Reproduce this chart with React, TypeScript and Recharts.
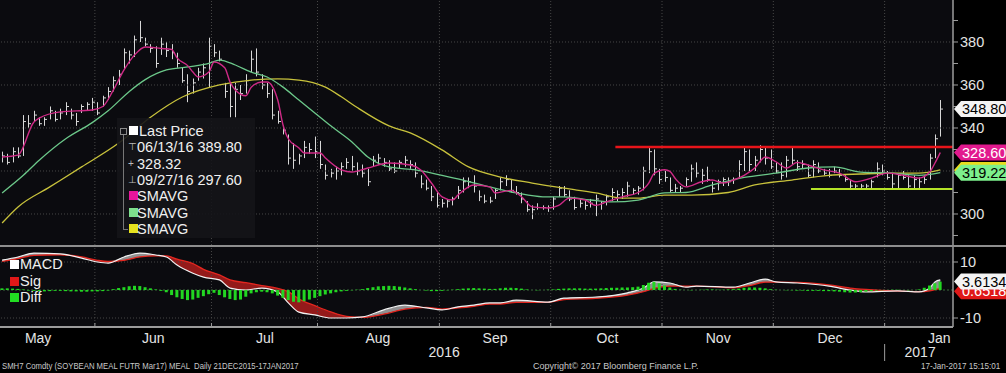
import React from 'react'
import {
    ComposedChart,
    Bar,
    Line,
    Area,
    XAxis,
    YAxis,
    CartesianGrid,
    ReferenceLine,
    ReferenceDot
} from 'recharts'

// daily bars, SMH7 soybean meal, 05 May 2016 .. 17 Jan 2017
const highs = [
    329, 328, 331, 331, 346, 346, 348, 345, 345, 350,
    348, 349, 352, 349, 347, 351, 352, 354, 352, 355,
    359, 364, 367, 377, 376, 383, 389.8, 382, 379, 378,
    382, 380, 379, 375, 368, 365, 363, 368, 370, 382,
    379, 376, 361, 361, 361, 360, 365, 376, 377, 365,
    361, 358, 348, 341, 337, 333, 328, 334, 333, 336,
    334, 323, 321, 322, 324, 326, 327, 324, 323, 321,
    327, 328, 326, 325, 324, 325, 327, 325, 324, 318,
    316, 313, 310, 307, 307, 308, 313, 317, 317, 318,
    311, 309, 308, 312, 317, 318, 316, 313, 310, 306,
    304, 305, 304, 304, 308, 313, 313, 311, 308, 307,
    306, 307, 309, 306, 309, 312, 311, 312, 315, 312,
    313, 322, 331, 330, 321, 320, 317, 314, 313, 317,
    323, 324, 321, 322, 315, 316, 317, 317, 317, 325,
    331, 330, 327, 332, 331, 330, 324, 324, 327, 331,
    325, 325, 323, 325, 324, 321, 321, 322, 321, 318,
    316, 314, 314, 314, 316, 324, 323, 320, 319, 319,
    320, 318, 318, 317, 318, 328, 337, 353
]
const lows = [
    324, 323, 324, 326, 327, 340, 343, 341, 341, 344,
    343, 344, 346, 344, 341, 347, 348, 348, 346, 350,
    353, 357, 360, 367, 370, 373, 380, 378, 375, 368,
    374, 373, 372, 368, 361, 352, 356, 362, 363, 359,
    373, 371, 354, 345, 345, 353, 356, 366, 364, 358,
    354, 344, 342, 337, 323, 321, 323, 326, 328, 326,
    321, 316, 317, 316, 318, 321, 320, 318, 317, 313,
    322, 323, 322, 320, 319, 321, 322, 321, 317, 312,
    311, 306, 303, 303, 303, 304, 307, 310, 312, 310,
    306, 305, 305, 307, 311, 313, 310, 309, 305, 301,
    297.6, 302, 302, 301, 302, 308, 308, 306, 302, 303,
    302, 303, 299, 302, 304, 306, 306, 307, 308, 309,
    309, 311, 319, 318, 314, 315, 310, 310, 310, 313,
    315, 317, 314, 315, 310, 311, 313, 313, 314, 317,
    320, 320, 320, 324, 323, 321, 319, 316, 317, 323,
    320, 321, 317, 317, 319, 318, 317, 319, 317, 315,
    312, 312, 312, 312, 312, 317, 318, 316, 312, 312,
    316, 312, 312, 312, 314, 316, 326, 336
]
const closes = [
    327, 324, 329, 327, 343, 342, 346, 342, 344, 348,
    344, 347, 350, 346, 343, 350, 351, 352, 347, 354,
    357, 362, 365, 375, 374, 381, 382, 379, 377, 370,
    379, 376, 375, 370, 362, 357, 361, 366, 368, 378,
    375, 372, 357, 350, 358, 356, 362, 372, 366, 360,
    356, 346, 343, 339, 326, 325, 327, 331, 330, 329,
    323, 318, 319, 320, 322, 324, 322, 320, 319, 315,
    325, 326, 324, 321, 320, 324, 325, 323, 319, 314,
    312, 308, 304, 305, 306, 307, 311, 315, 315, 313,
    308, 306, 306, 311, 315, 316, 311, 310, 307, 302,
    302, 303, 303, 303, 307, 312, 309, 307, 303, 305,
    304, 305, 307, 305, 308, 310, 309, 310, 313, 311,
    312, 320, 329, 321, 316, 317, 311, 312, 312, 316,
    321, 319, 318, 316, 312, 315, 316, 315, 316, 323,
    329, 323, 325, 330, 326, 322, 320, 318, 325, 325,
    322, 323, 318, 323, 320, 319, 318, 320, 318, 316,
    313, 313, 313, 313, 315, 321, 320, 317, 314, 318,
    317, 313, 316, 315, 316, 326, 335, 348.8
]
const diffs = [
    0.6, 0.6, 0.5, 0.4, 0.2, -0.2, -0.3, -0.4, -0.5, -0.4,
    -0.3, -0.3, -0.4, -0.5, -0.5, -0.6, -0.6, -0.5, -0.5, -0.4,
    -0.2, 0.3, 0.7, 1.0, 1.3, 1.5, 1.4, 1.0, 0.6, 0.2,
    -0.3, -0.8, -1.8, -2.6, -3.2, -3.6, -3.4, -2.8, -2.2, -1.5,
    -1.0, -1.8, -2.6, -3.2, -3.6, -3.4, -2.4, -1.2, -0.8, -0.6,
    -0.8, -1.2, -2.0, -2.8, -3.6, -4.2, -4.4, -4.0, -3.4, -2.8,
    -2.2, -1.6, -1.2, -0.8, -0.5, -0.3, -0.1, 0.1, 0.3, 0.7,
    1.0, 1.3, 1.4, 1.5, 1.4, 1.2, 0.9, 0.6, 0.3, 0.0,
    -0.2, -0.4, -0.4, -0.3, -0.1, 0.1, 0.3, 0.5, 0.6, 0.7,
    0.6, 0.5, 0.4, 0.4, 0.6, 0.8, 0.8, 0.7, 0.5, 0.2,
    0.0, -0.1, 0.0, 0.1, 0.2, 0.4, 0.5, 0.6, 0.6, 0.6,
    0.5, 0.5, 0.5, 0.6, 0.7, 0.8, 0.8, 0.9, 0.9, 1.0,
    1.2, 1.8, 2.6, 2.9, 2.4, 1.6, 0.9, 0.4, 0.1, 0.0,
    -0.1, 0.0, 0.1, 0.2, 0.2, 0.1, 0.1, 0.2, 0.3, 0.5,
    0.8, 0.9, 0.9, 0.8, 0.6, 0.3, 0.1, 0.0, -0.1, -0.1,
    -0.2, -0.2, -0.3, -0.3, -0.3, -0.4, -0.4, -0.5, -0.6, -0.8,
    -0.9, -0.9, -0.8, -0.6, -0.4, -0.2, -0.1, 0.0, 0.1, 0.1,
    0.0, -0.1, 0.0, 0.2, 0.8, 1.6, 2.4, 3.0
]

// moving averages read at sample days: [day, value]
const fastSma: [number, number][] = [
    [0, 326.5], [3, 327.4], [6, 342.8], [7, 344.6], [11, 347.5], [17, 348.4], [19, 350],
    [21, 357.7], [23, 367], [25, 374], [27, 377.7], [30, 377], [32, 376.5], [33, 372.6],
    [35, 369], [36, 366], [37, 363.7], [39, 366], [40, 370.7], [42, 368], [43, 361.4],
    [44, 357.7], [46, 355], [47, 359], [49, 361.4], [50, 361.4], [52, 353], [53, 341.4],
    [54, 335], [56, 330.7], [57, 328.4], [60, 328.4], [61, 326], [64, 320.5], [66, 319.5],
    [69, 321.4], [73, 323.7], [77, 322.8], [79, 320.5], [81, 314.4], [83, 308], [85, 306.5],
    [86, 308.8], [89, 313.5], [92, 312.6], [93, 309.8], [96, 311], [98, 308], [100, 303.3],
    [103, 302.8], [105, 304], [107, 307.4], [110, 306.5], [112, 304], [114, 305.6], [117, 308],
    [120, 310], [122, 314.4], [123, 318.8], [125, 320.6], [126, 319.8], [127, 316.5], [129, 312.6],
    [132, 315], [134, 315.8], [136, 314.4], [138, 315.8], [140, 318], [142, 321.4], [144, 326.5],
    [146, 324.3], [148, 321.4], [150, 324], [152, 322.8], [155, 320.5], [158, 319], [161, 315],
    [164, 316.7], [167, 319], [170, 318], [173, 316.7], [175, 319.5], [176, 323.7], [177, 328.6]
]
const midSma: [number, number][] = [
    [0, 309.8], [4, 318], [7, 325], [12, 335], [17, 342.5], [20, 348], [24, 357], [27, 362.5],
    [31, 367], [35, 368.4], [39, 370], [41, 371.6], [44, 369.3], [47, 366], [50, 363.7],
    [53, 359], [56, 353], [59, 347], [62, 341], [66, 333.5], [69, 326.5], [73, 321.9],
    [78, 320.5], [83, 318], [87, 315.8], [92, 312.6], [97, 309.8], [102, 308], [106, 308],
    [111, 306.5], [115, 305.6], [120, 306.5], [125, 309.8], [129, 310], [134, 313.5],
    [140, 317], [146, 319], [152, 321.4], [157, 321.9], [162, 319.5], [168, 319], [173, 318],
    [177, 319.22]
]
const slowSma: [number, number][] = [
    [0, 295.8], [3, 303.3], [9, 312.6], [15, 321.9], [22, 333], [28, 345], [34, 354.4],
    [41, 360], [47, 362.3], [52, 362.8], [56, 362.3], [61, 359], [64, 354.5], [67, 349.5],
    [73, 341], [77, 337.7], [83, 329.8], [88, 321.9], [94, 317.2], [100, 314.4], [106, 312],
    [112, 309.8], [117, 307.4], [120, 307.4], [125, 308.8], [130, 308.8], [137, 310],
    [142, 313.5], [149, 315.8], [156, 318], [162, 318.6], [168, 319], [173, 319], [177, 320.5]
]

// MACD / signal read at sample days
const macdDays = [
    0, 3, 6, 11, 15, 18, 20, 23, 26, 29, 31, 33, 36, 38, 41, 43, 46, 49, 52, 54,
    56, 59, 62, 65, 68, 72, 76, 80, 83, 86, 89, 92, 94, 97, 103, 106, 112, 118, 121, 123,
    126, 129, 131, 138, 141, 144, 146, 150, 156, 160, 163, 169, 173, 175, 176, 177
]
const macdValues = [
    10.7, 11.8, 13.2, 12.9, 11.4, 10.0, 9.6, 11.8, 13.2, 12.5, 11.8, 8.9, 6.0, 4.6, 3.6, 0.7, 0.0, 0.7, -0.7, -4.6,
    -7.9, -8.9, -10.0, -10.0, -9.6, -7.1, -5.4, -6.4, -7.1, -6.0, -5.4, -4.6, -4.6, -3.6, -4.3, -2.9, -2.5, -1.0, 0.7, 2.9,
    2.5, 1.0, 1.4, 1.0, 2.5, 3.9, 2.9, 2.5, 1.4, 0.0, -0.7, -0.3, -0.7, 0.7, 2.9, 3.6
]
const sigValues = [
    10.2, 11.2, 12.4, 12.6, 11.8, 10.6, 10.2, 10.6, 11.8, 12.2, 12.2, 11.0, 9.4, 7.4, 5.4, 3.6, 2.6, 1.6, 0.6, -0.6,
    -3.2, -5.6, -7.8, -9.4, -9.8, -8.6, -6.8, -6.2, -6.8, -6.4, -5.8, -5.0, -5.0, -4.4, -4.4, -3.4, -3.0, -1.8, -0.6, 0.6,
    1.4, 1.4, 1.4, 0.8, 1.6, 2.8, 2.8, 2.7, 1.8, 0.7, 0.2, -0.4, -0.6, -0.3, 0.1, 0.65
]

const monthLabels = ['May', 'Jun', 'Jul', 'Aug', 'Sep', 'Oct', 'Nov', 'Dec', 'Jan']
const monthCenters = [6.8, 28.5, 49.6, 70.9, 93, 114.2, 135.1, 156.2, 176.8]
const monthStarts = [17.5, 39.5, 59.5, 82.5, 103.5, 124.5, 145.5, 166.5]
const yearLabels = ['2016', '2017']
const yearCenters = [83.4, 173.2]
const yearBreak = 166.5

const priceGrid = [300, 320, 340, 360, 380]
const priceTicks = [290, 300, 310, 320, 330, 340, 350, 360, 370, 380, 390]
const priceLabels = [300, 340, 360, 380]
const resistance = { from: 115.7, value: 331.2 }
const support = { from: 152.6, value: 311.6 }

// the yellow badge sits behind the green one, only its edge shows
const priceBadges = [
    { value: 348.8, text: '348.80', bg: '#f4f4f4', fg: '#000' },
    { value: 320.5, text: '', bg: '#e8dc1e', fg: '#000' },
    { value: 319.22, text: '319.22', bg: '#7df08c', fg: '#000' },
    { value: 328.6, text: '328.60', bg: '#e2198e', fg: '#fff' }
]
const macdBadges = [
    { value: -0.4, text: '0.6518', bg: '#e01818', fg: '#fff' },
    { value: 3.0, text: '3.6134', bg: '#f4f4f4', fg: '#000' }
]

const legendStats = [
    { mark: '⊤', text: '06/13/16 389.80' },
    { mark: '+', text: '328.32' },
    { mark: '⊥', text: '09/27/16 297.60' }
]
const smaColors = ['#e8159b', '#7ee08e', '#e6e21e']

type Row = { i: number; range: number[]; hi: number; lo: number; cl: number; diff: number }

const rows: Row[] = highs.map((h, i) => ({
    i,
    range: [lows[i], h],
    hi: h,
    lo: lows[i],
    cl: closes[i],
    diff: diffs[i]
}))

const fastRows = fastSma.map(([d, v]) => ({ i: d, v }))
const midRows = midSma.map(([d, v]) => ({ i: d, v }))
const slowRows = slowSma.map(([d, v]) => ({ i: d, v }))

const macdRows = macdDays.map((d, k) => {
    const m = macdValues[k]
    const s = sigValues[k]
    return { i: d, macd: m, sig: s, up: [s, Math.max(m, s)], down: [Math.min(m, s), s] }
})

const X_DOMAIN: [number, number] = [-0.4, 179.4]
const FONT = '"Liberation Sans", Arial, sans-serif'
const GRID = '#474747'
const AXIS = '#9c9c9c'

function OhlcBar(props: any) {
    const { x, y, width, height, payload } = props
    if (x == null || y == null || !payload) return null
    const top = Math.min(y, y + height)
    const h = Math.max(Math.abs(height), 1)
    const cx = Math.round(x + width / 2) + 0.5
    const span = payload.hi - payload.lo
    const yc = top + (span ? (payload.hi - payload.cl) / span : 0) * h
    return (
        <g>
            <line x1={cx} x2={cx} y1={top} y2={top + h} stroke="#d8d8d8" strokeWidth={1} />
            <line x1={cx} x2={cx + 2.5} y1={yc} y2={yc} stroke="#d8d8d8" strokeWidth={1} />
        </g>
    )
}

function makeBadge(text: string, bg: string, fg: string) {
    return (props: any) => {
        const { cx, cy } = props
        const h = 8
        return (
            <g>
                <path
                    d={`M${cx + 1},${cy} L${cx + 8},${cy - h} L${cx + 53},${cy - h} L${cx + 53},${cy + h} L${cx + 8},${cy + h} Z`}
                    fill={bg}
                />
                {text && <text x={cx + 9} y={cy + 5} fill={fg} fontSize={14.5} fontFamily={FONT}>{text}</text>}
            </g>
        )
    }
}

function PriceTick(props: any) {
    const { x, y, payload } = props
    if (!priceLabels.includes(payload.value)) return null
    return (
        <text x={x} y={y + 5} fill="#e4e4e4" fontSize={14.5} fontFamily={FONT} textAnchor="start">
            {payload.value}
        </text>
    )
}

function MacdTick(props: any) {
    const { x, y, payload } = props
    return (
        <text x={x} y={y + 5} fill="#e4e4e4" fontSize={14.5} fontFamily={FONT} textAnchor="start">
            {payload.value}
        </text>
    )
}

function TimeTick(props: any) {
    const { x, y, payload } = props
    const v = payload.value
    const mi = monthCenters.indexOf(v)
    if (mi >= 0) {
        return (
            <text x={x} y={y + 16} fill="#e4e4e4" fontSize={14} fontFamily={FONT} textAnchor="middle">
                {monthLabels[mi]}
            </text>
        )
    }
    const yi = yearCenters.indexOf(v)
    if (yi >= 0) {
        return (
            <text x={x} y={y + 30} fill="#e4e4e4" fontSize={14} fontFamily={FONT} textAnchor="middle">
                {yearLabels[yi]}
            </text>
        )
    }
    return (
        <g>
            <line x1={x} x2={x} y1={y - 4} y2={y} stroke={AXIS} strokeWidth={1} />
            {v === yearBreak && <line x1={x} x2={x} y1={y + 17} y2={y + 34} stroke={AXIS} strokeWidth={1} />}
        </g>
    )
}

const timeTicks = [...monthStarts, ...monthCenters, ...yearCenters]

function PriceLegend() {
    const rowTop = (k: number) => 5 + k * 16.3
    const textStyle: React.CSSProperties = {
        position: 'absolute', left: 20, fontSize: 14.5, lineHeight: '16px', color: '#f0f0f0', whiteSpace: 'nowrap'
    }
    return (
        <div style={{ position: 'absolute', left: 117, top: 118, width: 138, height: 120, background: 'rgba(20,20,24,0.9)', fontFamily: FONT }}>
            <div style={{ position: 'absolute', left: 3, top: 10, width: 5, height: 5, border: '1px solid #8a8a8a' }} />
            <div style={{ position: 'absolute', left: 6, top: 17, width: 1, height: 95, background: '#777' }} />
            <div style={{ position: 'absolute', left: 6, top: 111, width: 5, height: 1, background: '#777' }} />
            <div style={{ position: 'absolute', left: 12, top: rowTop(0) + 3, width: 9, height: 9, background: '#fff' }} />
            <div style={{ ...textStyle, top: rowTop(0), left: 22 }}>Last Price</div>
            {legendStats.map((s, k) => (
                <React.Fragment key={s.text}>
                    <div style={{ position: 'absolute', left: 11, top: rowTop(k + 1), fontSize: 10, lineHeight: '16px', color: '#bbb' }}>{s.mark}</div>
                    <div style={{ ...textStyle, top: rowTop(k + 1) }}>{s.text}</div>
                </React.Fragment>
            ))}
            {smaColors.map((c, k) => (
                <React.Fragment key={c}>
                    <div style={{ position: 'absolute', left: 12, top: rowTop(k + 4) + 3, width: 9, height: 9, background: c }} />
                    <div style={{ ...textStyle, top: rowTop(k + 4) }}>SMAVG</div>
                </React.Fragment>
            ))}
        </div>
    )
}

function MacdLegend() {
    const items = [
        { label: 'MACD', color: '#ffffff' },
        { label: 'Sig', color: '#e01818' },
        { label: 'Diff', color: '#22dd22' }
    ]
    return (
        <div style={{ position: 'absolute', left: 0, top: 256, fontFamily: FONT }}>
            {items.map((it, k) => (
                <div key={it.label} style={{ position: 'absolute', top: k * 16.5, left: 0, height: 16, width: 80 }}>
                    <div style={{ position: 'absolute', left: 10, top: 4, width: 9, height: 9, background: it.color }} />
                    <div style={{ position: 'absolute', left: 20, top: 0, fontSize: 14.5, lineHeight: '16px', color: '#f0f0f0' }}>{it.label}</div>
                </div>
            ))}
        </div>
    )
}

const footStyle: React.CSSProperties = {
    position: 'absolute', top: 361, fontSize: 9, lineHeight: '11px', color: '#c8c8c8', whiteSpace: 'pre'
}

export default function App() {
    const margin = { top: 0, right: 0, bottom: 0, left: 0 }
    return (
        <div style={{ position: 'absolute', left: 0, top: 0, width: 1006, height: 373, background: '#000', overflow: 'hidden', fontFamily: FONT }}>
            {/* price panel */}
            <div style={{ position: 'absolute', left: 0, top: 0 }}>
                <ComposedChart width={1006} height={245} data={rows} margin={margin}>
                    <CartesianGrid horizontal={false} vertical={false} fill="#0b0b0f" />
                    <XAxis dataKey="i" type="number" domain={X_DOMAIN} allowDataOverflow hide />
                    <YAxis
                        orientation="right"
                        width={53}
                        domain={[285.58, 399.53]}
                        allowDataOverflow
                        ticks={priceTicks}
                        interval={0}
                        tick={<PriceTick />}
                        tickSize={5}
                        tickMargin={2}
                        axisLine={{ stroke: AXIS, strokeWidth: 1.5 }}
                        tickLine={{ stroke: AXIS }}
                    />
                    {priceGrid.map((v) => (
                        <ReferenceLine key={'h' + v} y={v} stroke={GRID} strokeDasharray="1 2" />
                    ))}
                    {monthStarts.map((v) => (
                        <ReferenceLine key={'v' + v} x={v} stroke={GRID} strokeDasharray="1 2" />
                    ))}
                    <Line data={slowRows} dataKey="v" type="monotone" stroke="#c8c23c" strokeWidth={1.3} dot={false} activeDot={false} isAnimationActive={false} />
                    <Line data={midRows} dataKey="v" type="monotone" stroke="#6cc88a" strokeWidth={1.3} dot={false} activeDot={false} isAnimationActive={false} />
                    <Bar dataKey="range" barSize={3} shape={<OhlcBar />} isAnimationActive={false} />
                    <Line data={fastRows} dataKey="v" type="monotone" stroke="#cf2a86" strokeWidth={1.4} dot={false} activeDot={false} isAnimationActive={false} />
                    <ReferenceLine
                        segment={[{ x: resistance.from, y: resistance.value }, { x: X_DOMAIN[1], y: resistance.value }]}
                        stroke="#e8141a"
                        strokeWidth={2.5}
                    />
                    <ReferenceLine
                        segment={[{ x: support.from, y: support.value }, { x: X_DOMAIN[1], y: support.value }]}
                        stroke="#b6e428"
                        strokeWidth={2}
                    />
                    {priceBadges.map((b) => (
                        <ReferenceDot
                            key={b.bg}
                            x={X_DOMAIN[1]}
                            y={b.value}
                            r={1}
                            ifOverflow="visible"
                            shape={makeBadge(b.text, b.bg, b.fg)}
                        />
                    ))}
                </ComposedChart>
            </div>

            <div style={{ position: 'absolute', left: 0, top: 245, width: 1006, height: 2, background: '#8e8e8e' }} />

            {/* MACD panel: lines and fills */}
            <div style={{ position: 'absolute', left: 0, top: 247 }}>
                <ComposedChart width={1006} height={126} data={macdRows} margin={margin}>
                    <CartesianGrid horizontal={false} vertical={false} fill="#0b0b0f" />
                    <XAxis
                        dataKey="i"
                        type="number"
                        domain={X_DOMAIN}
                        allowDataOverflow
                        height={46}
                        ticks={timeTicks}
                        interval={0}
                        tick={<TimeTick />}
                        tickSize={0}
                        tickMargin={0}
                        tickLine={false}
                        axisLine={{ stroke: AXIS, strokeWidth: 2 }}
                    />
                    <YAxis
                        orientation="right"
                        width={53}
                        domain={[-13.21, 15.36]}
                        allowDataOverflow
                        ticks={[-10, 10]}
                        interval={0}
                        tick={<MacdTick />}
                        tickSize={5}
                        tickMargin={2}
                        axisLine={{ stroke: AXIS, strokeWidth: 1.5 }}
                        tickLine={{ stroke: AXIS }}
                    />
                    {[-10, 10].map((v) => (
                        <ReferenceLine key={'mh' + v} y={v} stroke={GRID} strokeDasharray="1 2" />
                    ))}
                    {monthStarts.map((v) => (
                        <ReferenceLine key={'mv' + v} x={v} stroke={GRID} strokeDasharray="1 2" />
                    ))}
                    <ReferenceLine y={0} stroke="#3c6a3c" strokeDasharray="2 2" />
                    <Area dataKey="up" type="monotone" stroke="none" fill="#a8a8a8" fillOpacity={0.85} isAnimationActive={false} />
                    <Area dataKey="down" type="monotone" stroke="none" fill="#a31c1c" fillOpacity={0.9} isAnimationActive={false} />
                    <Line dataKey="sig" type="monotone" stroke="#e3261f" strokeWidth={1.3} dot={false} activeDot={false} isAnimationActive={false} />
                    <Line dataKey="macd" type="monotone" stroke="#f2f2f2" strokeWidth={1.2} dot={false} activeDot={false} isAnimationActive={false} />
                    {macdBadges.map((b) => (
                        <ReferenceDot
                            key={b.text}
                            x={X_DOMAIN[1]}
                            y={b.value}
                            r={1}
                            ifOverflow="visible"
                            shape={makeBadge(b.text, b.bg, b.fg)}
                        />
                    ))}
                </ComposedChart>
            </div>

            {/* MACD panel: diff histogram on top */}
            <div style={{ position: 'absolute', left: 0, top: 247 }}>
                <ComposedChart width={1006} height={126} data={rows} margin={margin}>
                    <XAxis dataKey="i" type="number" domain={X_DOMAIN} allowDataOverflow height={46} tick={false} axisLine={false} tickLine={false} />
                    <YAxis orientation="right" width={53} domain={[-13.21, 15.36]} allowDataOverflow tick={false} axisLine={false} tickLine={false} />
                    <Bar dataKey="diff" barSize={3} fill="#22d622" isAnimationActive={false} />
                </ComposedChart>
            </div>

            <PriceLegend />
            <MacdLegend />

            <div style={{ ...footStyle, left: 2, transform: 'scaleX(0.86)', transformOrigin: 'left top' }}>
                SMH7 Comdty (SOYBEAN MEAL FUTR Mar17) MEAL  Daily 21DEC2015-17JAN2017
            </div>
            <div style={{ ...footStyle, left: 533 }}>
                Copyright© 2017 Bloomberg Finance L.P.
            </div>
            <div style={{ ...footStyle, left: 921, transform: 'scaleX(0.9)', transformOrigin: 'left top' }}>
                17-Jan-2017 15:15:01
            </div>
        </div>
    )
}
